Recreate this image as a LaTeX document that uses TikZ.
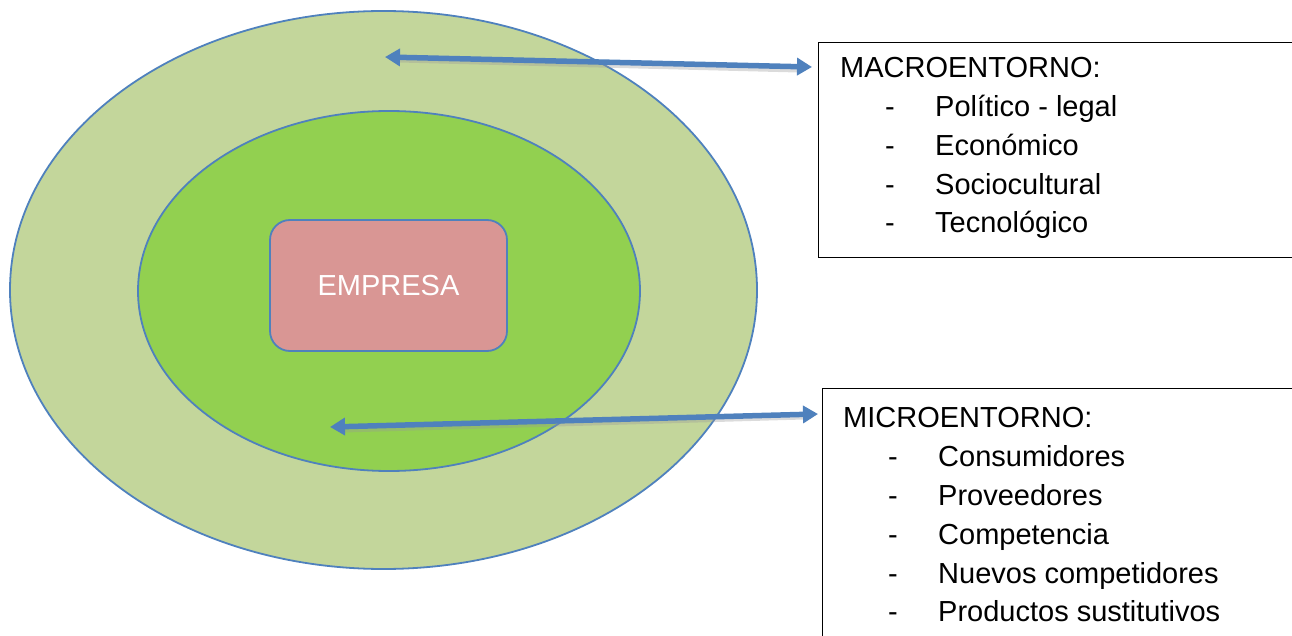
\documentclass[tikz,border=0pt]{standalone}
\usepackage{fontspec}
\setmainfont{Liberation Sans}
\usetikzlibrary{arrows.meta,shapes.geometric,calc}
\definecolor{outerg}{HTML}{C3D69B}
\definecolor{innerg}{HTML}{92D050}
\definecolor{boxpink}{HTML}{D99694}
\definecolor{lineblue}{HTML}{4F81BD}
\tikzset{
  ring/.style={draw=lineblue, line width=1.8pt},
  infobox/.style={draw=black, line width=1.4pt, fill=white, rectangle, anchor=north west, inner sep=0pt},
  txt/.style={anchor=base west, inner sep=0pt, font=\fontsize{29}{32}\selectfont},
  biarrow/.style={draw=lineblue, line width=5.5pt, {Triangle[length=15pt,width=17pt]}-{Triangle[length=15pt,width=17pt]}},
  arrowshadow/.style={draw=black!40, line width=5pt, opacity=0.35}
}
\begin{document}
\begin{tikzpicture}[x=1pt,y=-1pt]
\useasboundingbox (0,0) rectangle (1292,636);
\clip (0,0) rectangle (1292,636);
% ellipses
\node[ring, fill=outerg, ellipse, minimum width=747pt, minimum height=558pt, inner sep=0pt] (outer) at (383.5,290) {};
\node[ring, fill=innerg, ellipse, minimum width=502pt, minimum height=360pt, inner sep=0pt] (inner) at (389,291) {};
\node[draw=lineblue, line width=1.8pt, fill=boxpink, rounded corners=20pt, minimum width=237pt, minimum height=131pt, inner sep=0pt, text=white, font=\fontsize{29}{32}\selectfont] (empresa) at (388.5,285.5) {EMPRESA};
% boxes
\node[infobox, minimum width=480pt, minimum height=215pt] (macro) at (818,42) {};
\node[infobox, minimum width=480pt, minimum height=260pt] (micro) at (822,388) {};
% macro text
\node[txt] (mt) at (840,78) {MACROENTORNO:};
\node[txt] (m1d) at (885,117) {-};
\node[txt] (m1) at (935,117) {Político - legal};
\node[txt] (m2d) at (885,156) {-};
\node[txt] (m2) at (935,156) {Económico};
\node[txt] (m3d) at (885,195) {-};
\node[txt] (m3) at (935,195) {Sociocultural};
\node[txt] (m4d) at (885,233) {-};
\node[txt] (m4) at (935,233) {Tecnológico};
% micro text
\node[txt] (it) at (843,427) {MICROENTORNO:};
\node[txt] (i1d) at (888,466) {-};
\node[txt] (i1) at (938,466) {Consumidores};
\node[txt] (i2d) at (888,505) {-};
\node[txt] (i2) at (938,505) {Proveedores};
\node[txt] (i3d) at (888,544) {-};
\node[txt] (i3) at (938,544) {Competencia};
\node[txt] (i4d) at (888,583) {-};
\node[txt] (i4) at (938,583) {Nuevos competidores};
\node[txt] (i5d) at (888,621) {-};
\node[txt] (i5) at (938,621) {Productos sustitutivos};
% arrows
\coordinate (ma) at (385,57);
\coordinate (mb) at (812,67);
\coordinate (ia) at (330,427);
\coordinate (ib) at (818,414);
\draw[arrowshadow] ($(ma)+(14,3)$) -- ($(mb)+(-14,3)$);
\draw[arrowshadow] ($(ia)+(14,3)$) -- ($(ib)+(-14,3)$);
\draw[biarrow] (ma) -- (mb);
\draw[biarrow] (ia) -- (ib);
\end{tikzpicture}
\end{document}
